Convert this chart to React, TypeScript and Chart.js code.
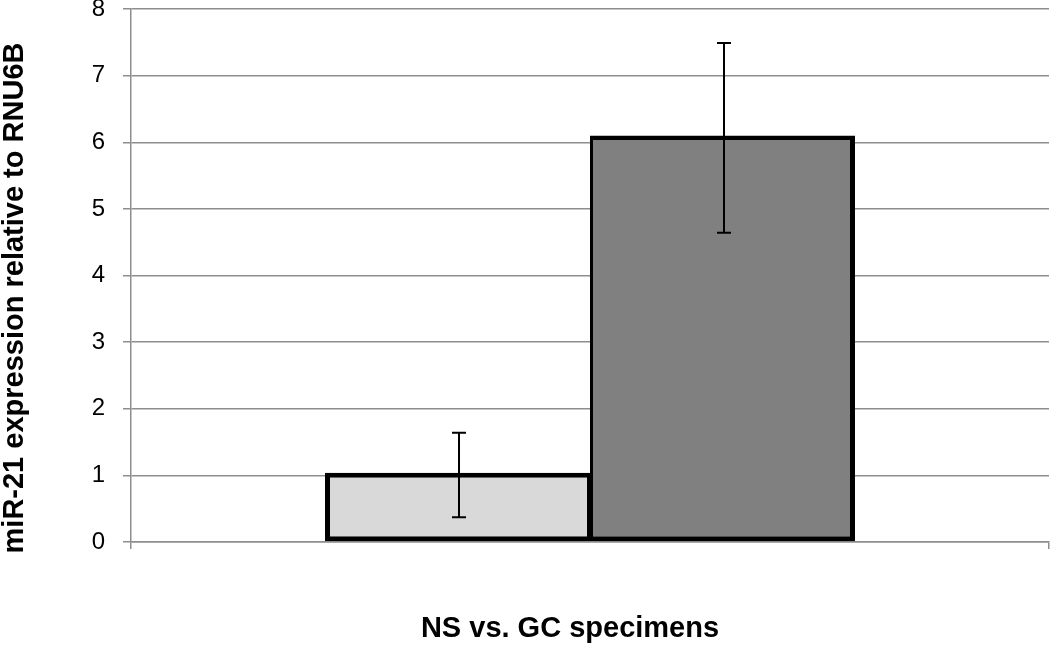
import React, { useEffect, useRef } from "react";
import { Chart, registerables } from "chart.js";

Chart.register(...registerables);

const categories = [""];
const seriesNames = ["NS", "GC"];
const seriesValues = [1.04, 6.1];
const errorLow = [0.37, 4.64];
const errorHigh = [1.64, 7.49];
const barColors = ["#d9d9d9", "#808080"];
const yTicks = [0, 1, 2, 3, 4, 5, 6, 7, 8];
const xTitle = "NS vs. GC specimens";
const yTitle = "miR-21 expression relative to RNU6B";

const FONT = "'Liberation Sans', Arial, sans-serif";
const GRID = "#8e8e8e";

const errorBarPlugin = {
  id: "errorBars",
  afterDatasetsDraw(chart: any) {
    const ctx = chart.ctx;
    const yScale = chart.scales.y;
    ctx.save();
    ctx.strokeStyle = "#000";
    ctx.lineWidth = 2;
    chart.data.datasets.forEach((ds: any, i: number) => {
      const meta = chart.getDatasetMeta(i);
      meta.data.forEach((bar: any) => {
        const x = Math.round(bar.x) + 1;
        const yLo = yScale.getPixelForValue(errorLow[i]);
        const yHi = yScale.getPixelForValue(errorHigh[i]);
        const cap = 7;
        ctx.beginPath();
        ctx.moveTo(x, yLo);
        ctx.lineTo(x, yHi);
        ctx.moveTo(x - cap, yLo);
        ctx.lineTo(x + cap, yLo);
        ctx.moveTo(x - cap, yHi);
        ctx.lineTo(x + cap, yHi);
        ctx.stroke();
      });
    });
    ctx.restore();
  },
};

const titlePlugin = {
  id: "axisTitles",
  afterDraw(chart: any) {
    const ctx = chart.ctx;
    ctx.save();
    ctx.fillStyle = "#000";
    ctx.font = `bold 29px ${FONT}`;
    ctx.textAlign = "center";
    ctx.textBaseline = "alphabetic";
    ctx.fillText(xTitle, 570, 637);
    ctx.translate(23, 298);
    ctx.rotate(-Math.PI / 2);
    ctx.fillText(yTitle, 0, 0);
    ctx.restore();
  },
};

export default function App() {
  const ref = useRef<HTMLCanvasElement | null>(null);

  useEffect(() => {
    if (!ref.current) return;
    const chart = new Chart(ref.current, {
      type: "bar",
      data: {
        labels: categories,
        datasets: seriesNames.map((name, i) => ({
          label: name,
          data: [seriesValues[i]],
          backgroundColor: barColors[i],
          borderColor: "#000",
          borderSkipped: false,
          borderWidth:
            i === 0
              ? { left: 5, top: 5, bottom: 5, right: 3 }
              : { left: 3, top: 5, bottom: 5, right: 5 },
          barPercentage: 1,
          categoryPercentage: 530 / 918,
        })),
      },
      options: {
        animation: false,
        responsive: true,
        maintainAspectRatio: false,
        layout: { padding: { top: 9, right: 1, left: 0, bottom: 0 } },
        plugins: {
          legend: { display: false },
          tooltip: { enabled: false },
        },
        scales: {
          x: {
            type: "category",
            grid: {
              offset: true,
              drawOnChartArea: false,
              drawTicks: true,
              tickLength: 7,
              color: GRID,
              lineWidth: 1.5,
            },
            border: { display: true, color: GRID, width: 1.5 },
            ticks: { display: true },
            afterFit: (scale: any) => {
              scale.height = 103;
              scale.paddingLeft = 0;
              scale.paddingRight = 0;
            },
          },
          y: {
            min: 0,
            max: 8,
            afterBuildTicks: (scale: any) => {
              scale.ticks = yTicks.map((v) => ({ value: v }));
            },
            grid: {
              color: GRID,
              lineWidth: 1.5,
              tickLength: 8,
            },
            border: { display: true, color: GRID, width: 1.5 },
            ticks: {
              color: "#000",
              padding: 18,
              font: { family: FONT, size: 24, lineHeight: 0.75 },
            },
            afterFit: (scale: any) => {
              scale.width = 131;
              scale.paddingTop = 0;
              scale.paddingBottom = 0;
            },
          },
        },
      },
      plugins: [errorBarPlugin, titlePlugin],
    });
    return () => chart.destroy();
  }, []);

  return (
    <div
      style={{
        position: "fixed",
        left: 0,
        top: 0,
        width: 1050,
        height: 645,
        background: "#fff",
      }}
    >
      <canvas ref={ref} />
    </div>
  );
}
